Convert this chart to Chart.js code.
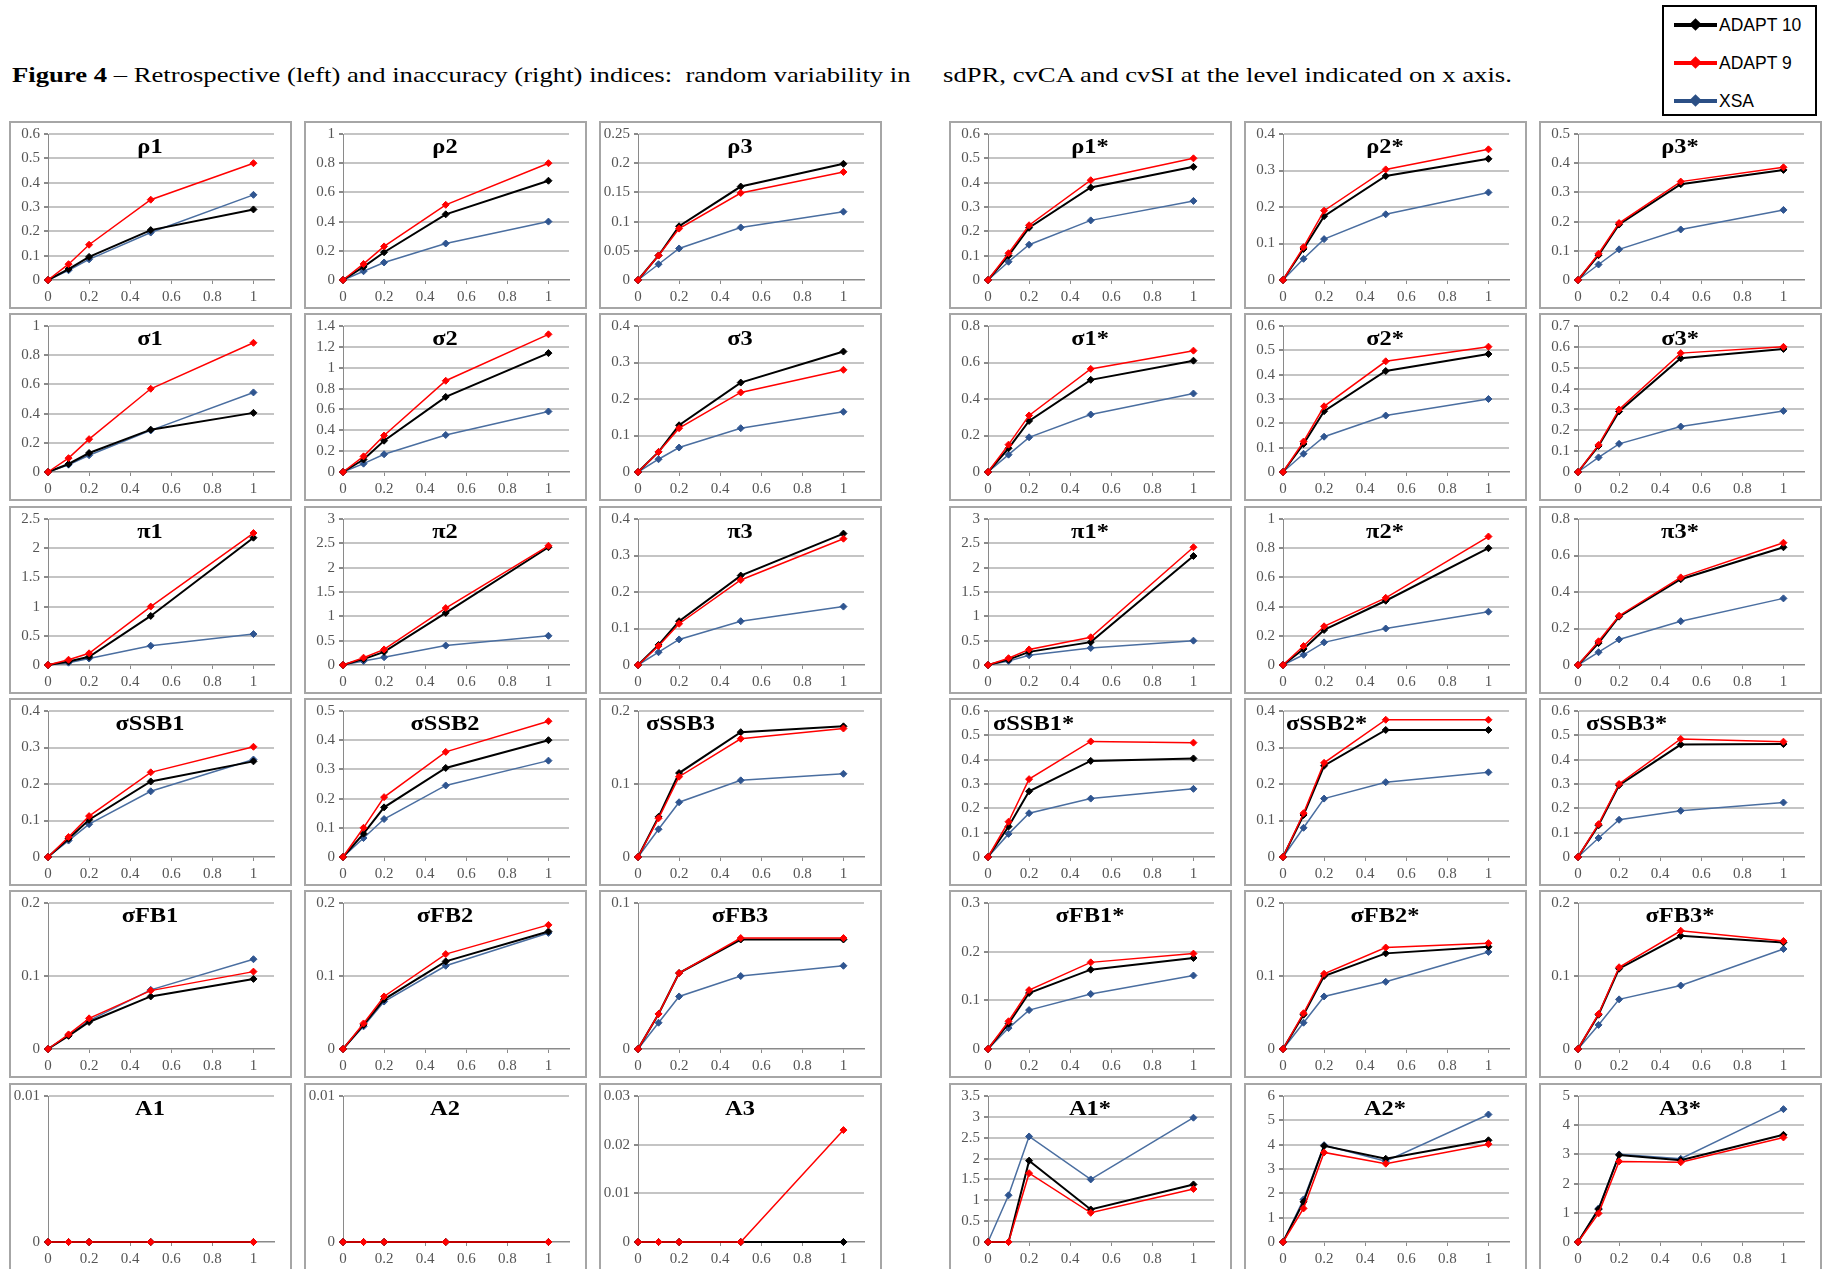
<!DOCTYPE html>
<html>
<head>
<meta charset="utf-8">
<script src="https://cdn.jsdelivr.net/npm/chart.js@4.4.1/dist/chart.umd.min.js"></script>
<style>
  html, body { margin: 0; padding: 0; background: #fff; }
  body { position: relative; width: 1830px; height: 1269px; overflow: hidden; }
  .caption {
    position: absolute; top: 65px;
    font-family: 'Liberation Serif', 'Times New Roman', serif;
    font-size: 21px; line-height: 21px; color: #000; white-space: pre;
    transform-origin: 0 0; transform: scaleX(1.27);
  }
  .panel { position: absolute; width: 283px; height: 188px; }
  .panel canvas { position: absolute; left: 0; top: 0; }
  .frame {
    position: absolute; left: 0; top: 0; width: 283px; height: 188px;
    box-sizing: border-box; border: 2px solid #a6a6a6; pointer-events: none;
  }
  .ptitle {
    position: absolute; top: 15px; white-space: pre; color: #000;
    font: bold 20px/20px 'Liberation Serif', 'Times New Roman', serif;
  }
  .ptitle.center { left: 141px; transform-origin: 50% 50%; transform: translateX(-50%) scaleX(1.22); }
  .ptitle.left { transform-origin: 0 0; transform: scaleX(1.22); }
  #legend {
    position: absolute; left: 1662px; top: 5px; width: 155px; height: 111px;
    box-sizing: border-box; border: 2px solid #000; background: #fff;
  }
  .lg-row { position: absolute; left: 0; height: 20px; width: 150px; }
  .lg-line { position: absolute; left: 10px; top: 8px; width: 43px; height: 4px; }
  .lg-mark { position: absolute; left: 27px; top: 5px; width: 9px; height: 9px; transform: rotate(45deg); }
  .lg-text {
    position: absolute; left: 55px; top: 0; line-height: 20px;
    font-family: 'Liberation Sans', Arial, sans-serif; font-size: 17.5px; color: #000; white-space: pre;
  }
</style>
</head>
<body>
<div class="caption" style="left:12px;"><b>Figure 4</b> – Retrospective (left) and inaccuracy (right) indices:  random variability in</div>
<div class="caption" style="left:943px;">sdPR, cvCA and cvSI at the level indicated on x axis.</div>
<div id="legend"></div>

<script>
// Noise level applied to sdPR, cvCA and cvSI (x axis of every panel)
const xLevels = [0, 0.1, 0.2, 0.5, 1];
const seriesNames = ['ADAPT 10', 'ADAPT 9', 'XSA'];

// Panels, row by row: retrospective indices (left three) then inaccuracy indices (right three)
const panelTitles = [
  'ρ1', 'ρ2', 'ρ3', 'ρ1*', 'ρ2*', 'ρ3*',
  'σ1', 'σ2', 'σ3', 'σ1*', 'σ2*', 'σ3*',
  'π1', 'π2', 'π3', 'π1*', 'π2*', 'π3*',
  'σSSB1', 'σSSB2', 'σSSB3', 'σSSB1*', 'σSSB2*', 'σSSB3*',
  'σFB1', 'σFB2', 'σFB3', 'σFB1*', 'σFB2*', 'σFB3*',
  'A1', 'A2', 'A3', 'A1*', 'A2*', 'A3*'
];

// Value axis maximum and tick step of each panel
const yMax = [
  0.6, 1, 0.25, 0.6, 0.4, 0.5,
  1, 1.4, 0.4, 0.8, 0.6, 0.7,
  2.5, 3, 0.4, 3, 1, 0.8,
  0.4, 0.5, 0.2, 0.6, 0.4, 0.6,
  0.2, 0.2, 0.1, 0.3, 0.2, 0.2,
  0.01, 0.01, 0.03, 3.5, 6, 5
];
const yStep = [
  0.1, 0.2, 0.05, 0.1, 0.1, 0.1,
  0.2, 0.2, 0.1, 0.2, 0.1, 0.1,
  0.5, 0.5, 0.1, 0.5, 0.2, 0.2,
  0.1, 0.1, 0.1, 0.1, 0.1, 0.1,
  0.1, 0.1, 0.1, 0.1, 0.1, 0.1,
  0.01, 0.01, 0.01, 0.5, 1, 1
];

// ADAPT 10 results, one list per panel (values at xLevels)
const adapt10 = [
  [0, 0.045, 0.095, 0.205, 0.29], [0, 0.09, 0.19, 0.45, 0.68], [0, 0.042, 0.092, 0.16, 0.199],
  [0, 0.10, 0.215, 0.38, 0.465], [0, 0.085, 0.175, 0.285, 0.332], [0, 0.085, 0.19, 0.328, 0.377],
  [0, 0.055, 0.13, 0.29, 0.405], [0, 0.12, 0.30, 0.72, 1.14], [0, 0.055, 0.128, 0.245, 0.33],
  [0, 0.13, 0.28, 0.505, 0.61], [0, 0.115, 0.25, 0.415, 0.485], [0, 0.125, 0.29, 0.545, 0.59],
  [0, 0.06, 0.14, 0.84, 2.18], [0, 0.12, 0.27, 1.07, 2.42], [0, 0.055, 0.12, 0.245, 0.36],
  [0, 0.11, 0.27, 0.47, 2.24], [0, 0.11, 0.24, 0.44, 0.80], [0, 0.12, 0.265, 0.47, 0.645],
  [0, 0.05, 0.102, 0.207, 0.262], [0, 0.08, 0.17, 0.305, 0.40], [0, 0.055, 0.115, 0.171, 0.179],
  [0, 0.125, 0.27, 0.395, 0.405], [0, 0.115, 0.25, 0.348, 0.348], [0, 0.13, 0.295, 0.462, 0.464],
  [0, 0.018, 0.037, 0.072, 0.096], [0, 0.033, 0.068, 0.12, 0.161], [0, 0.024, 0.052, 0.075, 0.075],
  [0, 0.052, 0.115, 0.163, 0.187], [0, 0.047, 0.10, 0.131, 0.14], [0, 0.047, 0.11, 0.155, 0.146],
  [0, 0, 0, 0, 0], [0, 0, 0, 0, 0], [0, 0, 0, 0, 0],
  [0, 0, 1.95, 0.78, 1.38], [0, 1.65, 3.95, 3.42, 4.18], [0, 1.12, 2.98, 2.80, 3.67]
];

// ADAPT 9 results
const adapt9 = [
  [0, 0.065, 0.145, 0.33, 0.48], [0, 0.11, 0.23, 0.515, 0.80], [0, 0.042, 0.088, 0.149, 0.185],
  [0, 0.11, 0.225, 0.41, 0.50], [0, 0.09, 0.19, 0.303, 0.358], [0, 0.09, 0.195, 0.337, 0.386],
  [0, 0.095, 0.225, 0.57, 0.885], [0, 0.15, 0.35, 0.875, 1.32], [0, 0.055, 0.12, 0.218, 0.28],
  [0, 0.15, 0.31, 0.565, 0.665], [0, 0.125, 0.27, 0.455, 0.515], [0, 0.13, 0.30, 0.57, 0.60],
  [0, 0.09, 0.20, 1.00, 2.26], [0, 0.15, 0.32, 1.17, 2.45], [0, 0.052, 0.113, 0.233, 0.346],
  [0, 0.14, 0.32, 0.57, 2.42], [0, 0.13, 0.265, 0.46, 0.88], [0, 0.13, 0.27, 0.48, 0.67],
  [0, 0.055, 0.112, 0.232, 0.302], [0, 0.10, 0.205, 0.36, 0.465], [0, 0.053, 0.11, 0.162, 0.176],
  [0, 0.145, 0.32, 0.475, 0.47], [0, 0.12, 0.258, 0.376, 0.376], [0, 0.135, 0.30, 0.485, 0.474],
  [0, 0.02, 0.042, 0.08, 0.106], [0, 0.035, 0.072, 0.13, 0.17], [0, 0.024, 0.052, 0.076, 0.076],
  [0, 0.057, 0.121, 0.178, 0.196], [0, 0.049, 0.103, 0.139, 0.145], [0, 0.048, 0.112, 0.162, 0.148],
  [0, 0, 0, 0, 0], [0, 0, 0, 0, 0], [0, 0, 0, 0, 0.023],
  [0, 0, 1.65, 0.70, 1.27], [0, 1.38, 3.68, 3.22, 4.02], [0, 0.98, 2.76, 2.73, 3.58]
];

// XSA results
const xsa = [
  [0, 0.04, 0.085, 0.195, 0.35], [0, 0.06, 0.12, 0.25, 0.40], [0, 0.027, 0.054, 0.09, 0.117],
  [0, 0.075, 0.145, 0.245, 0.325], [0, 0.058, 0.112, 0.18, 0.24], [0, 0.053, 0.105, 0.173, 0.24],
  [0, 0.05, 0.115, 0.285, 0.545], [0, 0.08, 0.17, 0.355, 0.58], [0, 0.035, 0.067, 0.12, 0.165],
  [0, 0.095, 0.19, 0.315, 0.43], [0, 0.075, 0.145, 0.232, 0.30], [0, 0.07, 0.135, 0.218, 0.293],
  [0, 0.04, 0.11, 0.33, 0.53], [0, 0.08, 0.16, 0.40, 0.60], [0, 0.035, 0.07, 0.12, 0.16],
  [0, 0.08, 0.20, 0.35, 0.50], [0, 0.07, 0.155, 0.25, 0.365], [0, 0.07, 0.14, 0.24, 0.365],
  [0, 0.045, 0.09, 0.18, 0.267], [0, 0.065, 0.13, 0.245, 0.33], [0, 0.038, 0.075, 0.105, 0.114],
  [0, 0.095, 0.18, 0.24, 0.28], [0, 0.08, 0.16, 0.205, 0.232], [0, 0.078, 0.153, 0.19, 0.224],
  [0, 0.019, 0.039, 0.081, 0.123], [0, 0.031, 0.065, 0.114, 0.159], [0, 0.018, 0.036, 0.05, 0.057],
  [0, 0.043, 0.08, 0.113, 0.151], [0, 0.036, 0.072, 0.092, 0.133], [0, 0.033, 0.068, 0.087, 0.137],
  [0, 0, 0, 0, 0], [0, 0, 0, 0, 0], [0, 0, 0, 0, 0],
  [0, 1.12, 2.53, 1.50, 2.98], [0, 1.75, 3.98, 3.32, 5.24], [0, 1.15, 3.00, 2.85, 4.55]
];

// Panels whose title sits toward the left instead of centred (panel index -> left offset)
const leftTitles = { 20: 47, 21: 44, 22: 42, 23: 47 };

// Grid placement of the panels
const colLeft = [9, 304, 599, 949, 1244, 1539];
const rowTop = [121, 313, 506, 698, 890, 1083];
const PW = 283, PH = 188;

const seriesStyle = [
  { line: '#000000', mark: '#000000', width: 2, order: 1 },
  { line: '#ff0000', mark: '#ff0000', width: 1.5, order: 0 },
  { line: '#4a6ea0', mark: '#2f5590', width: 1.5, order: 2 }
];
const seriesData = [adapt10, adapt9, xsa];

const tickFont = { family: "'Liberation Serif', 'Times New Roman', serif", size: 15 };
const axisGrey = '#8a8a8a';
function fmt(v) { return String(Math.round(v * 1000) / 1000); }

// Legend box
const legend = document.getElementById('legend');
seriesNames.forEach((name, k) => {
  const row = document.createElement('div');
  row.className = 'lg-row';
  row.style.top = (8 + k * 38) + 'px';
  const line = document.createElement('span');
  line.className = 'lg-line';
  line.style.background = k === 2 ? '#2b4f85' : seriesStyle[k].line;
  const mark = document.createElement('span');
  mark.className = 'lg-mark';
  mark.style.background = k === 2 ? '#2b4f85' : seriesStyle[k].mark;
  const txt = document.createElement('span');
  txt.className = 'lg-text';
  txt.textContent = name;
  row.appendChild(line); row.appendChild(mark); row.appendChild(txt);
  legend.appendChild(row);
});

panelTitles.forEach((title, i) => {
  const r = Math.floor(i / 6), c = i % 6;
  const wrap = document.createElement('div');
  wrap.className = 'panel';
  wrap.style.left = colLeft[c] + 'px';
  wrap.style.top = rowTop[r] + 'px';
  const cv = document.createElement('canvas');
  cv.width = PW; cv.height = PH;
  wrap.appendChild(cv);
  const frame = document.createElement('div');
  frame.className = 'frame';
  wrap.appendChild(frame);
  const t = document.createElement('div');
  t.textContent = title;
  if (leftTitles[i] !== undefined) {
    t.className = 'ptitle left';
    t.style.left = leftTitles[i] + 'px';
  } else {
    t.className = 'ptitle center';
  }
  wrap.appendChild(t);
  document.body.appendChild(wrap);

  const datasets = seriesNames.map((name, k) => ({
    label: name,
    data: xLevels.map((x, j) => ({ x: x, y: seriesData[k][i][j] })),
    showLine: true,
    borderColor: seriesStyle[k].line,
    borderWidth: seriesStyle[k].width,
    backgroundColor: seriesStyle[k].mark,
    pointStyle: 'rectRot',
    pointRadius: 3.5,
    pointBackgroundColor: seriesStyle[k].mark,
    pointBorderColor: seriesStyle[k].mark,
    pointBorderWidth: 1,
    order: seriesStyle[k].order,
    clip: false
  }));

  new Chart(cv, {
    type: 'scatter',
    data: { datasets },
    options: {
      responsive: false,
      animation: false,
      events: [],
      layout: { padding: { left: 0, right: 18, top: 8, bottom: 0 } },
      plugins: { legend: { display: false }, tooltip: { enabled: false }, title: { display: false } },
      scales: {
        x: {
          type: 'linear', min: 0, max: 1.1,
          afterFit(s) { s.height = 29; },
          ticks: { stepSize: 0.2, includeBounds: false, callback: fmt, font: tickFont, color: '#555', padding: 4, maxRotation: 0, autoSkip: false },
          grid: { drawOnChartArea: false, drawTicks: true, tickLength: 4, color: axisGrey },
          border: { color: axisGrey, width: 1.5 }
        },
        y: {
          type: 'linear', min: 0, max: yMax[i],
          afterFit(s) { s.width = 39; },
          ticks: { stepSize: yStep[i], callback: fmt, font: tickFont, color: '#555', padding: 4, autoSkip: false },
          grid: {
            color: ctx => (ctx.tick && ctx.tick.value === 0) ? 'rgba(0,0,0,0)' : '#c4c4c4',
            lineWidth: 2, tickColor: axisGrey, tickLength: 4, drawTicks: true
          },
          border: { color: axisGrey, width: 1 }
        }
      }
    }
  });
});
</script>
</body>
</html>
